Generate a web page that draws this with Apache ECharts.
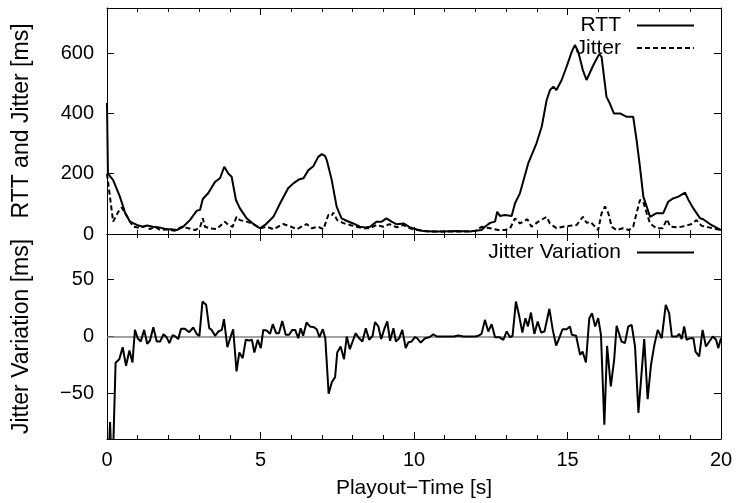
<!DOCTYPE html>
<html><head><meta charset="utf-8">
<script src="https://cdn.jsdelivr.net/npm/echarts@6/dist/echarts.min.js"></script>
<style>html,body{margin:0;padding:0;background:#fff}#c{width:737px;height:503px}</style>
</head><body><div id="c"></div>
<script>
// ---- data (time [s], value [ms]) ----
const rttData = [[0,435],[0.03,200],[0.2,179],[0.42,124],[0.59,70],[0.75,41],[0.97,30],[1.17,24],[1.3,28],[1.5,24],[1.7,22],[1.94,16],[2.1,16],[2.27,13],[2.48,24],[2.7,46],[2.92,77],[3.03,80],[3.12,116],[3.3,136],[3.52,173],[3.68,185],[3.82,223],[3.95,201],[4.06,190],[4.2,113],[4.33,85],[4.55,52],[4.77,33],[4.98,19],[5.15,30],[5.42,57],[5.64,102],[5.9,152],[6.07,168],[6.27,182],[6.4,185],[6.56,212],[6.72,225],[6.88,256],[7.0,265],[7.1,259],[7.16,245],[7.32,179],[7.48,91],[7.64,52],[7.8,44],[8.02,35],[8.24,24],[8.4,22],[8.57,24],[8.78,41],[8.95,41],[9.1,52],[9.27,41],[9.44,32],[9.66,35],[9.87,22],[10.09,15],[10.3,10],[10.63,8],[10.95,8],[11.4,10],[11.82,8],[12.2,13],[12.31,24],[12.48,37],[12.64,41],[12.71,74],[12.8,60],[12.96,63],[13.18,60],[13.29,102],[13.45,135],[13.72,234],[13.99,301],[14.16,356],[14.32,444],[14.43,478],[14.54,489],[14.64,478],[14.81,511],[14.97,555],[15.14,605],[15.24,627],[15.35,605],[15.5,544],[15.62,511],[15.84,560],[16.03,597],[16.11,588],[16.27,455],[16.38,433],[16.51,400],[16.71,400],[16.93,389],[17.14,389],[17.25,312],[17.36,223],[17.47,124],[17.58,91],[17.69,57],[17.9,69],[18.12,69],[18.28,107],[18.44,118],[18.61,124],[18.83,137],[18.94,113],[19.1,85],[19.32,52],[19.42,49],[19.64,33],[20.0,13]];

const jitterData = [[0,200],[0.03,195],[0.2,41],[0.37,74],[0.48,88],[0.59,70],[0.75,41],[0.86,24],[1.08,20],[1.24,27],[1.4,16],[1.56,24],[1.73,13],[1.94,16],[2.21,11],[2.43,24],[2.65,19],[2.87,13],[3.03,22],[3.12,52],[3.19,24],[3.36,19],[3.57,16],[3.84,41],[3.95,30],[4.09,24],[4.22,57],[4.33,46],[4.55,41],[4.77,33],[4.98,19],[5.2,24],[5.42,16],[5.74,33],[6.0,24],[6.18,16],[6.5,33],[6.67,19],[6.88,24],[7.05,16],[7.21,63],[7.32,60],[7.37,71],[7.5,46],[7.7,36],[7.91,30],[8.13,24],[8.35,19],[8.57,19],[8.78,30],[9.0,24],[9.2,33],[9.44,22],[9.65,30],[9.87,19],[10.09,13],[10.5,8],[11.0,8],[11.5,8],[12.0,10],[12.2,24],[12.48,19],[12.75,13],[12.95,13],[13.13,19],[13.29,52],[13.45,35],[13.69,49],[13.83,24],[14.05,41],[14.32,57],[14.43,35],[14.64,19],[14.86,24],[15.08,27],[15.3,30],[15.5,57],[15.62,37],[15.75,40],[15.9,24],[16.0,13],[16.11,69],[16.22,91],[16.33,69],[16.44,24],[16.6,13],[16.8,19],[17.0,13],[17.14,24],[17.25,69],[17.36,113],[17.47,107],[17.58,69],[17.69,35],[17.9,19],[18.1,19],[18.24,49],[18.35,24],[18.61,22],[18.85,27],[19.04,33],[19.2,46],[19.37,27],[19.6,22],[20.0,13]];

const variationData = [[0.02,-130],[0.1,-75],[0.17,-130],[0.28,-23],[0.4,-20],[0.51,-9.4],[0.62,-25.7],[0.73,-12.3],[0.83,-22.8],[0.91,5.8],[1.0,-1.5],[1.1,-4.4],[1.21,5.8],[1.31,-6.4],[1.4,-3.5],[1.51,8.2],[1.62,-4.4],[1.73,-4.4],[1.84,2],[1.94,-0.6],[2.03,-5.8],[2.14,1.2],[2.23,0],[2.32,-2.3],[2.41,6.7],[2.54,6.7],[2.68,3.8],[2.81,7.9],[2.92,2.3],[3.01,0.6],[3.11,30.7],[3.23,27.8],[3.33,7.3],[3.41,5.8],[3.52,0.6],[3.63,4.4],[3.74,5.8],[3.81,15.2],[3.92,-9.4],[4.03,0],[4.11,6.4],[4.22,-30.7],[4.31,-14],[4.42,-19],[4.52,-2.9],[4.63,-3.5],[4.72,-2.9],[4.8,-14],[4.91,-2.9],[5.01,-10.2],[5.09,5.8],[5.2,5.3],[5.31,2.3],[5.4,10.8],[5.51,2.9],[5.6,2.9],[5.71,13.7],[5.82,1.5],[5.93,1.5],[6.04,5.8],[6.13,5.8],[6.23,-1.5],[6.31,7.3],[6.39,0.6],[6.5,12.3],[6.61,8.8],[6.74,8.2],[6.83,6.4],[6.92,-0.6],[7.03,6.4],[7.11,-1.5],[7.22,-50.3],[7.32,-40.3],[7.43,-35.7],[7.5,-14],[7.61,-8.8],[7.72,-19.9],[7.81,0],[7.91,-11.1],[8.0,-4.4],[8.1,2.9],[8.21,-1.5],[8.32,-4.4],[8.43,7.3],[8.54,-2.9],[8.65,0.6],[8.73,12.6],[8.84,8.8],[8.93,-2.3],[9.03,6.4],[9.13,13.2],[9.22,-3.8],[9.33,7.3],[9.41,-4.4],[9.52,-1.5],[9.62,5.8],[9.73,-10.2],[9.81,-5.3],[9.92,-4.4],[10.03,-0.6],[10.1,-1.5],[10.22,-5.3],[10.36,-1.5],[10.5,-0.6],[10.63,2],[10.74,0],[11.0,0],[11.3,0],[11.44,0.9],[11.6,0],[12.0,0],[12.09,0.6],[12.2,2.3],[12.31,14.6],[12.42,4.4],[12.53,10.8],[12.64,-0.6],[12.78,-0.6],[12.91,-2.9],[13.02,4.4],[13.13,-0.6],[13.21,0.6],[13.32,30.7],[13.43,17.5],[13.53,3.5],[13.63,16.1],[13.71,8.8],[13.81,21],[13.92,2.3],[14.03,13.2],[14.14,3.5],[14.25,4.4],[14.41,24.3],[14.52,5.8],[14.63,-7.9],[14.73,-1.5],[14.84,6.4],[14.97,6.4],[15.08,8.8],[15.14,1.5],[15.28,0.6],[15.41,-16.1],[15.49,-13.2],[15.6,-22.8],[15.71,16.1],[15.8,20.5],[15.9,8.8],[16.0,16.1],[16.09,1.5],[16.2,-77.5],[16.29,-8.2],[16.41,-43.9],[16.52,-20.5],[16.6,9.4],[16.76,-4.4],[16.87,-5.8],[16.98,8.8],[17.09,10.2],[17.2,-8.8],[17.31,-67],[17.5,-2.3],[17.61,-55],[17.72,-24.8],[17.83,-7.3],[17.94,5.8],[18.07,-1.5],[18.2,27.8],[18.31,20.5],[18.4,0],[18.56,0],[18.64,2.3],[18.72,-2.3],[18.8,8.8],[18.88,-2.9],[18.99,-1.5],[19.1,-1.5],[19.17,-13.2],[19.29,-17.5],[19.4,5.8],[19.51,-8.8],[19.62,-4.4],[19.73,0],[19.84,-2.9],[19.91,-10.2],[20.0,-1.5]];

const topYTicks = [0, 200, 400, 600];
const bottomYTicks = [-50, 0, 50];
const seriesNames = ['RTT', 'Jitter', 'Jitter Variation'];
const xTitle = 'Playout\u2212Time [s]';
const topYTitle = 'RTT and Jitter [ms]';
const bottomYTitle = 'Jitter Variation [ms]';

// ---- chart ----
const FONT = 'Liberation Sans, Arial, Helvetica, sans-serif';
const chart = echarts.init(document.getElementById('c'), null, {renderer: 'canvas'});
const black = '#000';
const lab = {color: black, fontSize: 20, fontFamily: FONT};
const fmt = v => String(v).replace('-', '\u2212');

function xAxis(grid, pos, labels) {
  return {
    type: 'value', gridIndex: grid, position: pos, min: 0, max: 20, interval: 5,
    axisLine: {show: true, onZero: false, lineStyle: {color: black, width: 1}},
    axisTick: {show: true, inside: true, length: 7, lineStyle: {color: black, width: 1}},
    minorTick: {show: true, splitNumber: 5, length: 4, lineStyle: {color: black, width: 1}},
    axisLabel: labels ? Object.assign({show: true, margin: 11}, lab) : {show: false},
    splitLine: {show: false},
    name: labels ? xTitle : '', nameLocation: 'middle', nameGap: 39,
    nameTextStyle: {color: black, fontSize: 21, fontFamily: FONT}
  };
}
function yAxis(grid, pos, min, max, ticks, labels, title) {
  return {
    type: 'value', gridIndex: grid, position: pos, min: min, max: max,
    axisLine: {show: true, onZero: false, lineStyle: {color: black, width: 1}},
    axisTick: {show: true, inside: true, length: 7, customValues: ticks, lineStyle: {color: black, width: 1}},
    axisLabel: labels ? Object.assign({show: true, margin: 13, customValues: ticks, formatter: fmt}, lab) : {show: false},
    splitLine: {show: false},
    name: labels ? title : '', nameLocation: 'middle', nameGap: 74, nameRotate: 90,
    nameTextStyle: {color: black, fontSize: 23, fontFamily: FONT}
  };
}

const legendBase = {
  orient: 'vertical', right: 42, align: 'right', itemWidth: 57, itemHeight: 10, itemGap: 1.5,
  padding: 0, selectedMode: false,
  itemStyle: {opacity: 0},
  textStyle: {color: black, fontSize: 21, fontFamily: FONT, lineHeight: 20, padding: [0, 11, 0, 0]}
};

chart.setOption({
  animation: false,
  backgroundColor: '#fff',
  grid: [
    {left: 107, right: 16, top: 8, height: 226},
    {left: 107, right: 16, top: 234, height: 205}
  ],
  legend: [
    Object.assign({}, legendBase, {data: [seriesNames[0], seriesNames[1]], top: 15}),
    Object.assign({}, legendBase, {data: [seriesNames[2]], top: 242})
  ],
  xAxis: [xAxis(0, 'bottom', false), xAxis(0, 'top', false), xAxis(1, 'bottom', true), xAxis(1, 'top', false)],
  yAxis: [
    yAxis(0, 'left', 0, 750, topYTicks, true, topYTitle),
    yAxis(0, 'right', 0, 750, topYTicks, false),
    yAxis(1, 'left', -90, 90, bottomYTicks, true, bottomYTitle),
    yAxis(1, 'right', -90, 90, bottomYTicks, false)
  ],
  series: [
    {name: seriesNames[0], type: 'line', xAxisIndex: 0, yAxisIndex: 0, data: rttData, symbol: 'none', showSymbol: false,
     lineStyle: {color: black, width: 2}, itemStyle: {color: black}},
    {name: seriesNames[1], type: 'line', xAxisIndex: 0, yAxisIndex: 0, data: jitterData, symbol: 'none', showSymbol: false,
     lineStyle: {color: black, width: 2, type: [5, 3]}, itemStyle: {color: black}},
    {name: seriesNames[2], type: 'line', xAxisIndex: 2, yAxisIndex: 2, data: variationData, symbol: 'none', showSymbol: false,
     clip: true, lineStyle: {color: black, width: 2}, itemStyle: {color: black},
     markLine: {silent: true, z: 1, symbol: ['none', 'none'], label: {show: false},
       lineStyle: {color: '#808080', width: 1.5, type: 'solid'}, data: [{yAxis: 0}], animation: false}}
  ]
});
</script>
</body></html>
